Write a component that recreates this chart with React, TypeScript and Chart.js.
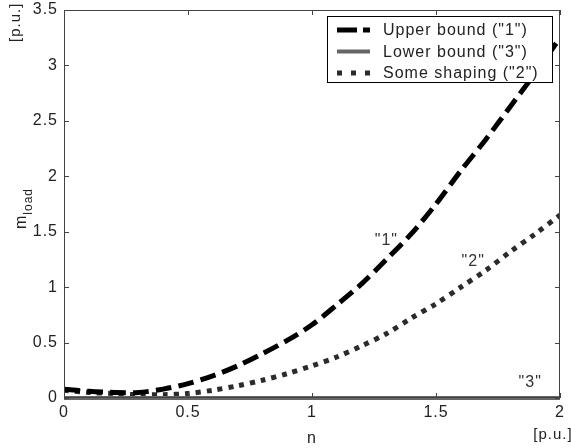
import React, { useEffect, useRef } from "react";
import { Chart, registerables } from "chart.js";

Chart.register(...registerables);

// ---- data ----
const nValues = [0, 0.1, 0.2, 0.3, 0.4, 0.5, 0.6, 0.7, 0.8, 0.9, 1.0, 1.1, 1.2, 1.3, 1.4, 1.5, 1.6, 1.7, 1.8, 1.9, 2.0];
const upperBound = [0.08, 0.06, 0.05, 0.05, 0.08, 0.13, 0.2, 0.29, 0.4, 0.52, 0.66, 0.84, 1.03, 1.25, 1.48, 1.75, 2.05, 2.33, 2.63, 2.93, 3.25];
const lowerBound = [0, 0, 0, 0, 0, 0, 0, 0, 0, 0, 0, 0, 0, 0, 0, 0, 0, 0, 0, 0, 0];
const someShaping = [0.07, 0.05, 0.04, 0.03, 0.03, 0.04, 0.07, 0.11, 0.16, 0.22, 0.29, 0.37, 0.47, 0.58, 0.72, 0.85, 1.0, 1.15, 1.32, 1.48, 1.65];
const seriesLabels = ['Upper bound ("1")', 'Lower bound ("3")', 'Some shaping ("2")'];
const xTicks = [0, 0.5, 1, 1.5, 2];
const yTicks = [0, 0.5, 1, 1.5, 2, 2.5, 3, 3.5];
const tagTexts = ['"1"', '"2"', '"3"'];
const tagN = [1.3, 1.65, 1.88];
const tagM = [1.42, 1.23, 0.14];

const FONT = "'Liberation Sans', Arial, sans-serif";
const TEXT = "#222";
const FRAME = "#444";
const SPACING = "1px";

const toPts = (ys: number[]) => nValues.map((x, i) => ({ x, y: ys[i] }));

const decorPlugin = {
  id: "decor",
  beforeDraw(chart: any) {
    chart.ctx.letterSpacing = SPACING;
  },
  afterDatasetsDraw(chart: any) {
    const ctx = chart.ctx as CanvasRenderingContext2D;
    const { left, right, top, bottom } = chart.chartArea;
    const xs = chart.scales.x;
    const ys = chart.scales.y;
    ctx.save();
    (ctx as any).letterSpacing = SPACING;
    // frame
    ctx.strokeStyle = FRAME;
    ctx.lineWidth = 1;
    ctx.setLineDash([]);
    ctx.strokeRect(left + 0.5, top + 0.5, right - left - 1, bottom - top - 1);
    // inward ticks
    const tl = 5;
    ctx.beginPath();
    xTicks.forEach((v) => {
      const px = Math.round(xs.getPixelForValue(v)) + 0.5;
      ctx.moveTo(px, bottom);
      ctx.lineTo(px, bottom - tl);
      ctx.moveTo(px, top);
      ctx.lineTo(px, top + tl);
    });
    yTicks.forEach((v) => {
      const py = Math.round(ys.getPixelForValue(v)) + 0.5;
      ctx.moveTo(left, py);
      ctx.lineTo(left + tl, py);
      ctx.moveTo(right, py);
      ctx.lineTo(right - tl, py);
    });
    ctx.stroke();

    // curve tags
    ctx.fillStyle = "#333";
    ctx.font = `16px ${FONT}`;
    ctx.textAlign = "center";
    ctx.textBaseline = "middle";
    tagTexts.forEach((t, i) => {
      ctx.fillText(t, xs.getPixelForValue(tagN[i]), ys.getPixelForValue(tagM[i]));
    });

    // legend
    const bx = left + 263;
    const by = top + 6;
    const bw = right - 7 - bx;
    const bh = 67;
    ctx.fillStyle = "#fff";
    ctx.fillRect(bx, by, bw, bh);
    ctx.strokeStyle = "#000";
    ctx.lineWidth = 1;
    ctx.strokeRect(bx + 0.5, by + 0.5, bw - 1, bh - 1);
    const sampleDash = [[20, 6], [], [5, 9]];
    chart.data.datasets.forEach((ds: any, i: number) => {
      const y = by + 14 + i * 21.5;
      ctx.save();
      ctx.strokeStyle = ds.borderColor;
      ctx.lineWidth = ds.borderWidth;
      ctx.setLineDash(sampleDash[i]);
      ctx.lineCap = "butt";
      ctx.beginPath();
      ctx.moveTo(bx + 10, y);
      ctx.lineTo(bx + 43, y);
      ctx.stroke();
      ctx.restore();
      ctx.fillStyle = TEXT;
      ctx.font = `16px ${FONT}`;
      ctx.textAlign = "left";
      ctx.textBaseline = "middle";
      ctx.fillText(ds.label, bx + 56, y + 1);
    });

    // axis titles
    ctx.fillStyle = TEXT;
    ctx.textBaseline = "alphabetic";
    // "[p.u.]" rotated top-left
    ctx.save();
    ctx.translate(20, 42);
    ctx.rotate(-Math.PI / 2);
    ctx.textAlign = "left";
    ctx.font = `15px ${FONT}`;
    ctx.fillText("[p.u.]", 0, 0);
    ctx.restore();
    // m_load
    ctx.save();
    ctx.translate(26, 229);
    ctx.rotate(-Math.PI / 2);
    ctx.textAlign = "left";
    ctx.font = `16px ${FONT}`;
    ctx.fillText("m", 0, 0);
    const mw = ctx.measureText("m").width;
    ctx.font = `12px ${FONT}`;
    ctx.fillText("load", mw, 6);
    ctx.restore();
    // n and unit
    ctx.font = `16px ${FONT}`;
    ctx.textAlign = "center";
    ctx.fillText("n", (left + right) / 2, 443);
    ctx.font = `15px ${FONT}`;
    ctx.fillText("[p.u.]", 553, 439);
    ctx.restore();
  },
};

export default function App() {
  const ref = useRef<HTMLCanvasElement | null>(null);
  useEffect(() => {
    if (!ref.current) return;
    const chart = new Chart(ref.current, {
      type: "line",
      data: {
        datasets: [
          {
            label: seriesLabels[0],
            data: toPts(upperBound),
            borderColor: "#000",
            borderWidth: 5,
            borderDash: [16, 7],
            pointRadius: 0,
            fill: false,
            tension: 0.3,
          },
          {
            label: seriesLabels[1],
            data: toPts(lowerBound),
            borderColor: "#666",
            borderWidth: 4,
            pointRadius: 0,
            fill: false,
            clip: 6,
          },
          {
            label: seriesLabels[2],
            data: toPts(someShaping),
            borderColor: "#2b2b2b",
            borderWidth: 5,
            borderDash: [5, 6],
            pointRadius: 0,
            fill: false,
            tension: 0.3,
          },
        ] as any,
      },
      options: {
        responsive: false,
        animation: false,
        layout: { padding: { left: 0, right: 11, top: 10, bottom: 0 } },
        plugins: { legend: { display: false }, tooltip: { enabled: false } },
        scales: {
          x: {
            type: "linear",
            min: 0,
            max: 2,
            afterBuildTicks: (s: any) => {
              s.ticks = xTicks.map((v) => ({ value: v }));
            },
            afterFit: (s: any) => {
              s.height = 50;
              s.paddingLeft = 0;
              s.paddingRight = 0;
            },
            grid: { display: false, drawTicks: false },
            border: { display: false },
            ticks: {
              padding: 5,
              autoSkip: false,
              maxRotation: 0,
              color: TEXT,
              font: { family: FONT, size: 16 },
              callback: (v: any) => String(v),
            },
          },
          y: {
            type: "linear",
            min: 0,
            max: 3.5,
            afterBuildTicks: (s: any) => {
              s.ticks = yTicks.map((v) => ({ value: v }));
            },
            afterFit: (s: any) => {
              s.width = 64;
              s.paddingTop = 0;
              s.paddingBottom = 0;
            },
            grid: { display: false, drawTicks: false },
            border: { display: false },
            ticks: {
              padding: 6,
              autoSkip: false,
              color: TEXT,
              font: { family: FONT, size: 16 },
              callback: (v: any) => String(v),
            },
          },
        },
      } as any,
      plugins: [decorPlugin],
    });
    return () => chart.destroy();
  }, []);
  return (
    <div style={{ position: "fixed", left: 0, top: 0, width: 571, height: 448, background: "#fff" }}>
      <canvas ref={ref} width={571} height={448} style={{ display: "block" }} />
    </div>
  );
}
